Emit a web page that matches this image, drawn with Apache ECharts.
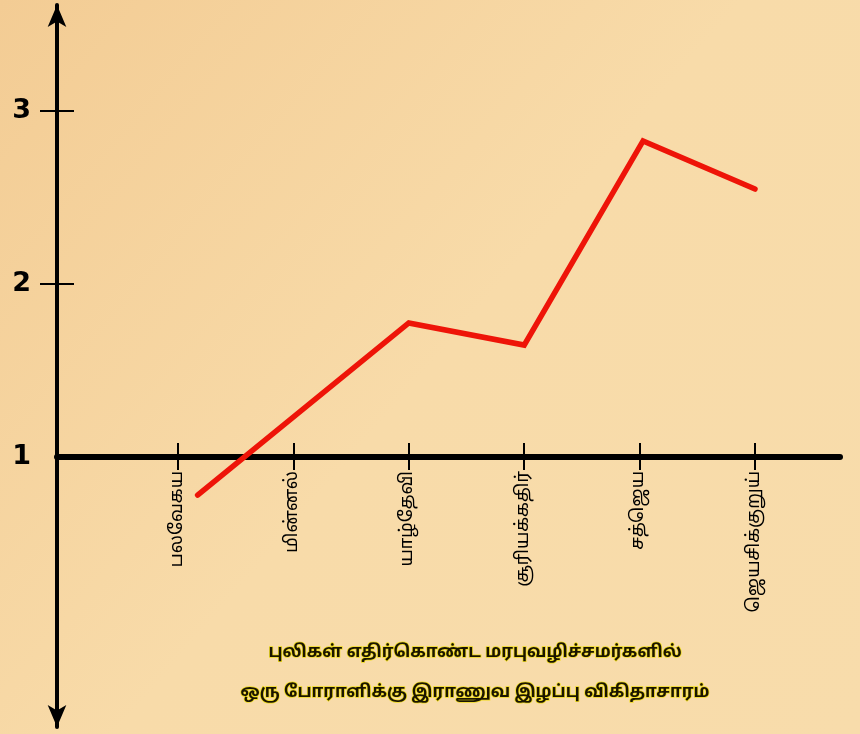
<!DOCTYPE html>
<html>
<head>
<meta charset="utf-8">
<style>
  html, body { margin: 0; padding: 0; }
  #chart { width: 860px; height: 734px; }
</style>
<script src="https://cdn.jsdelivr.net/npm/echarts@6/dist/echarts.min.js"></script>
</head>
<body>
<div id="chart"></div>
<script>
  // operation names along the x axis
  const categories = ['பலவேகய', 'மின்னல்', 'யாழ்தேவி', 'சூரியக்கதிர்', 'சத்ஜெய', 'ஜெயசிக்குறுய்'];
  const categoryIdx = [0, 1, 2, 3, 4, 5];
  // line points: position along category axis, and ratio value
  const lossX = [0.17, 2, 3, 4.03, 5];
  const lossY = [0.78, 1.775, 1.647, 2.827, 2.549];
  const yTickValues = [2, 3];
  const yLabelValues = [1, 2, 3];
  const titleLines = ['புலிகள் எதிர்கொண்ட மரபுவழிச்சமர்களில்', 'ஒரு போராளிக்கு இராணுவ இழப்பு விகிதாசாரம்'];

  const X_MIN = -1.0485, X_MAX = 5.7366;
  const Y_MIN = -0.561, Y_MAX = 3.613;
  const tamilFont = '"Noto Sans Tamil", "Latha", "Noto Sans", sans-serif';

  const chart = echarts.init(document.getElementById('chart'));

  chart.setOption({
    backgroundColor: {
      type: 'linear', x: 0, y: 0, x2: 1, y2: 1,
      colorStops: [
        { offset: 0, color: '#f3cc94' },
        { offset: 0.5, color: '#f8dba9' },
        { offset: 1, color: '#f8dcab' }
      ]
    },
    animation: false,
    title: {
      text: titleLines.join('\n'),
      left: 470,
      top: 629,
      textAlign: 'center',
      textStyle: {
        fontFamily: tamilFont,
        fontSize: 17,
        fontWeight: 'bold',
        lineHeight: 40,
        color: '#1a1400',
        textBorderColor: '#f0dc20',
        textBorderWidth: 1.5
      }
    },
    grid: [
      { left: 57, right: 20, top: 5, bottom: 7 },
      { left: 57, right: 20, top: 5, bottom: 277 }
    ],
    xAxis: [
      { type: 'value', gridIndex: 0, min: X_MIN, max: X_MAX, show: false },
      {
        type: 'value', gridIndex: 1, min: X_MIN, max: X_MAX, position: 'bottom',
        axisLine: { show: true, onZero: false, lineStyle: { color: '#000', width: 6 } },
        axisTick: { show: true, length: 13, customValues: categoryIdx, lineStyle: { color: '#000', width: 2 } },
        axisLabel: {
          show: true, customValues: categoryIdx, rotate: 90, margin: 14,
          fontFamily: tamilFont, fontSize: 18, color: '#000',
          formatter: (v) => categories[Math.round(v)]
        },
        splitLine: { show: false }
      },
      {
        type: 'value', gridIndex: 1, min: X_MIN, max: X_MAX, position: 'bottom',
        axisLine: { show: false, onZero: false },
        axisTick: { show: true, inside: true, length: 14, customValues: categoryIdx, lineStyle: { color: '#000', width: 2 } },
        axisLabel: { show: false },
        splitLine: { show: false }
      }
    ],
    yAxis: [
      {
        type: 'value', gridIndex: 0, min: Y_MIN, max: Y_MAX,
        axisLine: {
          show: true, onZero: false,
          symbol: ['arrow', 'arrow'], symbolSize: [14, 22],
          lineStyle: { color: '#000', width: 4 }
        },
        axisTick: { show: true, length: 17, customValues: yTickValues, lineStyle: { color: '#000', width: 2 } },
        axisLabel: {
          show: true, customValues: yLabelValues, margin: 26,
          fontFamily: 'DejaVu Sans', fontWeight: 'bold', fontSize: 27, color: '#000'
        },
        splitLine: { show: false }
      },
      {
        type: 'value', gridIndex: 0, min: Y_MIN, max: Y_MAX, position: 'left',
        axisLine: { show: false, onZero: false },
        axisTick: { show: true, inside: true, length: 17, customValues: yTickValues, lineStyle: { color: '#000', width: 2 } },
        axisLabel: { show: false },
        splitLine: { show: false }
      },
      { type: 'value', gridIndex: 1, min: 0, max: 1, show: false }
    ],
    series: [
      {
        type: 'line',
        xAxisIndex: 0,
        yAxisIndex: 0,
        data: lossX.map((x, i) => [x, lossY[i]]),
        showSymbol: false,
        clip: false,
        lineStyle: { color: '#ee1408', width: 5.5, cap: 'round', join: 'miter' }
      }
    ]
  });
</script>
</body>
</html>
